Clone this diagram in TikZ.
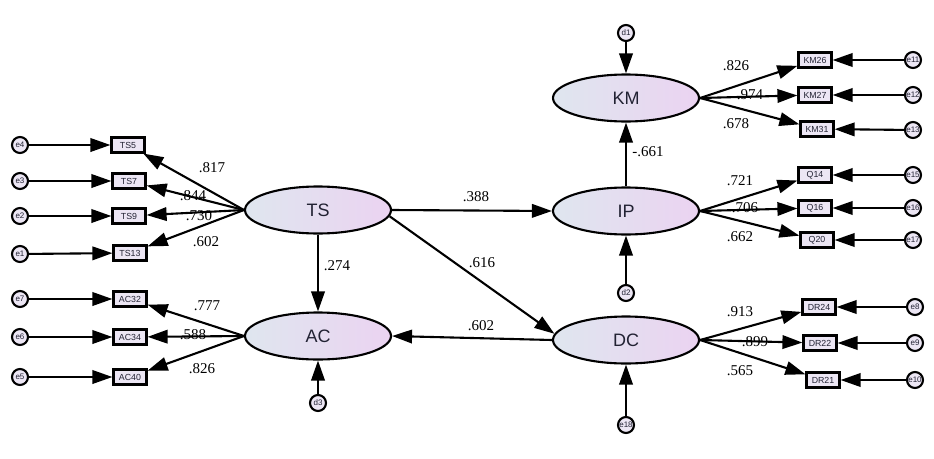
\documentclass[tikz,border=0pt]{standalone}
\usepackage{fontspec}
\setmainfont{Liberation Serif}
\newfontfamily\arial{Liberation Sans}
\usetikzlibrary{shapes.geometric,arrows.meta}
\definecolor{latL}{HTML}{DFE6EF}
\definecolor{latR}{HTML}{EBD3F1}
\definecolor{boxfill}{HTML}{ECE6F4}
\definecolor{boxtext}{HTML}{222233}
\begin{document}
\begin{tikzpicture}[x=1pt,y=-1pt,
  lat/.style={ellipse, draw, line width=2.1pt, minimum width=146pt, minimum height=47pt, inner sep=0pt, left color=latL, right color=latR, font=\arial\fontsize{18}{18}\selectfont, text=boxtext},
  obs/.style={rectangle, draw, line width=2.2pt, fill=boxfill, minimum width=33pt, minimum height=15pt, inner sep=0pt, font=\arial\fontsize{8.8}{8.8}\selectfont, text=boxtext},
  err/.style={circle, draw, line width=2.1pt, fill=boxfill, minimum size=16pt, inner sep=0pt, font=\arial\fontsize{8}{8}\selectfont, text=boxtext},
  arr/.style={line width=2.1pt, -{Triangle[length=20pt,width=13.5pt]}},
  lab/.style={font=\fontsize{15}{15}\selectfont, inner sep=0pt}]
\fill[white] (0,0) rectangle (934,458);
\useasboundingbox (0,0) rectangle (934,458);
% latent variables
\node[lat] (TS) at (318,210) {TS};
\node[lat] (AC) at (318,336) {AC};
\node[lat] (KM) at (626,98) {KM};
\node[lat] (IP) at (626,211) {IP};
\node[lat] (DC) at (626,340) {DC};
% TS indicators
\node[obs] (ts5) at (128,145) {TS5};
\node[obs] (ts7) at (129,181) {TS7};
\node[obs] (ts9) at (129,216) {TS9};
\node[obs] (ts13) at (130,253) {TS13};
\node[err] (e4) at (20,145) {e4};
\node[err] (e3) at (20,181) {e3};
\node[err] (e2) at (20,216) {e2};
\node[err] (e1) at (20,254) {e1};
% AC indicators
\node[obs] (ac32) at (130,299) {AC32};
\node[obs] (ac34) at (130,337) {AC34};
\node[obs] (ac40) at (130,377) {AC40};
\node[err] (e7) at (20,299) {e7};
\node[err] (e6) at (20,337) {e6};
\node[err] (e5) at (20,377) {e5};
\node[err] (d3) at (318,403) {d3};
% KM indicators
\node[obs] (km26) at (815,60) {KM26};
\node[obs] (km27) at (815,95) {KM27};
\node[obs] (km31) at (817,129) {KM31};
\node[err] (e11) at (913,60) {e11};
\node[err] (e12) at (913,95) {e12};
\node[err] (e13) at (913,130) {e13};
\node[err] (d1) at (626,33) {d1};
% IP indicators
\node[obs] (q14) at (815,175) {Q14};
\node[obs] (q16) at (815,208) {Q16};
\node[obs] (q20) at (817,240) {Q20};
\node[err] (e15) at (913,175) {e15};
\node[err] (e16) at (913,208) {e16};
\node[err] (e17) at (913,240) {e17};
\node[err] (d2) at (626,293) {d2};
% DC indicators
\node[obs] (dr24) at (819,307) {DR24};
\node[obs] (dr22) at (820,343) {DR22};
\node[obs] (dr21) at (823,380) {DR21};
\node[err] (e8) at (915,307) {e8};
\node[err] (e9) at (915,343) {e9};
\node[err] (e10) at (915,380) {e10};
\node[err] (e18) at (626,425) {e18};
% loadings
\foreach \b in {ts5,ts7,ts9,ts13} \draw[arr] (TS.west) -- (\b);
\foreach \b in {ac32,ac34,ac40} \draw[arr] (AC.west) -- (\b);
\foreach \b in {km26,km27,km31} \draw[arr] (KM.east) -- (\b);
\foreach \b in {q14,q16,q20} \draw[arr] (IP.east) -- (\b);
\foreach \b in {dr24,dr22,dr21} \draw[arr] (DC.east) -- (\b);
% errors
\draw[arr] (e4) -- (ts5);
\draw[arr] (e3) -- (ts7);
\draw[arr] (e2) -- (ts9);
\draw[arr] (e1) -- (ts13);
\draw[arr] (e7) -- (ac32);
\draw[arr] (e6) -- (ac34);
\draw[arr] (e5) -- (ac40);
\draw[arr] (e11) -- (km26);
\draw[arr] (e12) -- (km27);
\draw[arr] (e13) -- (km31);
\draw[arr] (e15) -- (q14);
\draw[arr] (e16) -- (q16);
\draw[arr] (e17) -- (q20);
\draw[arr] (e8) -- (dr24);
\draw[arr] (e9) -- (dr22);
\draw[arr] (e10) -- (dr21);
\draw[arr] (d1) -- (KM);
\draw[arr] (d2) -- (IP);
\draw[arr] (d3) -- (AC);
\draw[arr] (e18) -- (DC);
% structural paths
\draw[arr] (TS.east) -- (IP.west);
\draw[arr] (TS.south) -- (AC.north);
\draw[arr] (TS.-5) -- (DC.175);
\draw[arr] (DC.west) -- (AC.east);
\draw[arr] (IP.north) -- (KM.south);
% labels
\node[lab] (l1) at (212,168) {.817};
\node[lab] (l2) at (193,196) {.844};
\node[lab] (l3) at (199,216) {.730};
\node[lab] (l4) at (206,242) {.602};
\node[lab] (l5) at (207,306) {.777};
\node[lab] (l6) at (193,335) {.588};
\node[lab] (l7) at (202,369) {.826};
\node[lab] (l8) at (736,66) {.826};
\node[lab] (l9) at (750,95) {.974};
\node[lab] (l10) at (736,124) {.678};
\node[lab] (l11) at (740,181) {.721};
\node[lab] (l12) at (745,208) {.706};
\node[lab] (l13) at (740,237) {.662};
\node[lab] (l14) at (740,312) {.913};
\node[lab] (l15) at (755,342) {.899};
\node[lab] (l16) at (740,371) {.565};
\node[lab] (l17) at (476,197) {.388};
\node[lab] (l18) at (337,266) {.274};
\node[lab] (l19) at (482,263) {.616};
\node[lab] (l20) at (481,326) {.602};
\node[lab] (l21) at (648,152) {-.661};
\end{tikzpicture}
\end{document}
